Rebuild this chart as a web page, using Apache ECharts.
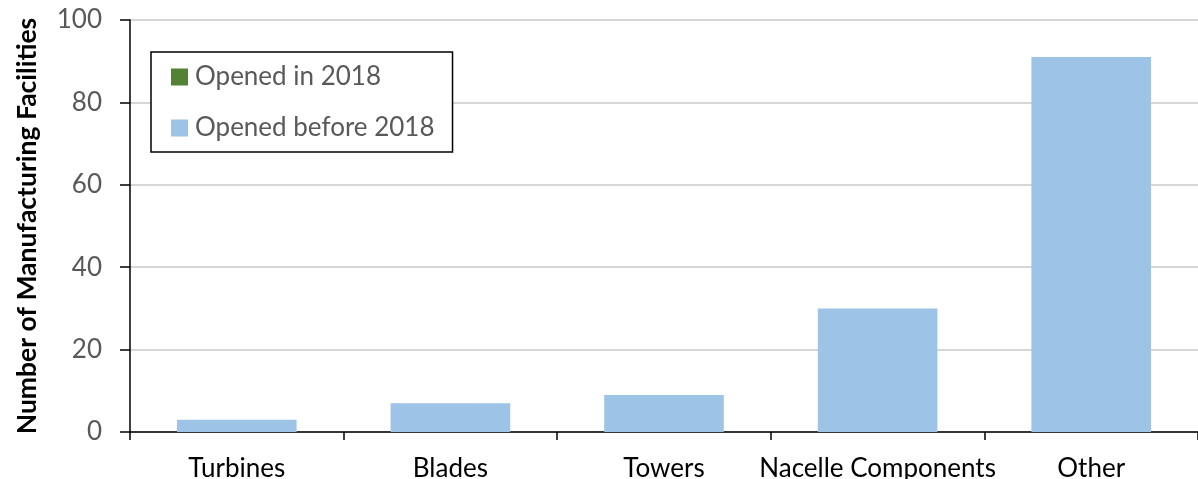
<!DOCTYPE html>
<html>
<head>
<meta charset="utf-8">
<script src="https://cdn.jsdelivr.net/npm/echarts@6/dist/echarts.min.js"></script>
<style>
  html, body { margin: 0; padding: 0; background: #fff; }
  #chart { width: 1198px; height: 479px; }
</style>
</head>
<body>
<div id="chart"></div>
<script>
const categories = ['Turbines', 'Blades', 'Towers', 'Nacelle Components', 'Other'];
const openedIn2018 = [0, 0, 0, 0, 0];
const openedBefore2018 = [3, 7, 9, 30, 91];
const yTicks = { min: 0, max: 100, interval: 20 };

const fontFamily = 'Lato, "Liberation Sans", sans-serif';

let myChart = echarts.init(document.getElementById('chart'));

let option = {
  animation: false,
  textStyle: { fontFamily: fontFamily },
  grid: {
    left: 130,
    right: 0,
    top: 20,
    bottom: 47,
    outerBoundsMode: 'none',
    containLabel: false
  },
  legend: {
    orient: 'vertical',
    left: 151,
    top: 52,
    padding: [12, 18, 11, 20],
    itemGap: 25,
    itemWidth: 17,
    itemHeight: 17,
    icon: 'rect',
    borderColor: '#000',
    borderWidth: 1.5,
    backgroundColor: '#fff',
    textStyle: { color: '#595959', fontSize: 26, lineHeight: 26, fontFamily: fontFamily, padding: [0, 0, 0, 2] },
    data: ['Opened in 2018', 'Opened before 2018']
  },
  xAxis: {
    type: 'category',
    data: categories,
    axisLine: { lineStyle: { color: '#000', width: 1.5 } },
    axisTick: { show: true, length: 8, lineStyle: { color: '#000', width: 1.5 } },
    axisLabel: { color: '#000', fontSize: 26, margin: 24, interval: 0 }
  },
  yAxis: {
    type: 'value',
    min: yTicks.min,
    max: yTicks.max,
    interval: yTicks.interval,
    name: 'Number of Manufacturing Facilities',
    nameLocation: 'middle',
    nameGap: 89,
    nameTextStyle: { color: '#000', fontSize: 26.5, fontWeight: 'bold' },
    axisLine: { show: true, lineStyle: { color: '#000', width: 1.5 } },
    axisTick: { show: true, length: 10, lineStyle: { color: '#000', width: 1.5 } },
    axisLabel: { color: '#595959', fontSize: 26, margin: 28 },
    splitLine: { lineStyle: { color: '#c8c8c8', width: 1.5 } }
  },
  series: [
    {
      name: 'Opened before 2018',
      type: 'bar',
      stack: 'total',
      barWidth: '56%',
      data: openedBefore2018,
      itemStyle: { color: '#9dc3e6' }
    },
    {
      name: 'Opened in 2018',
      type: 'bar',
      stack: 'total',
      barWidth: '56%',
      data: openedIn2018,
      itemStyle: { color: '#548235' }
    }
  ]
};

myChart.setOption(option);
</script>
</body>
</html>
